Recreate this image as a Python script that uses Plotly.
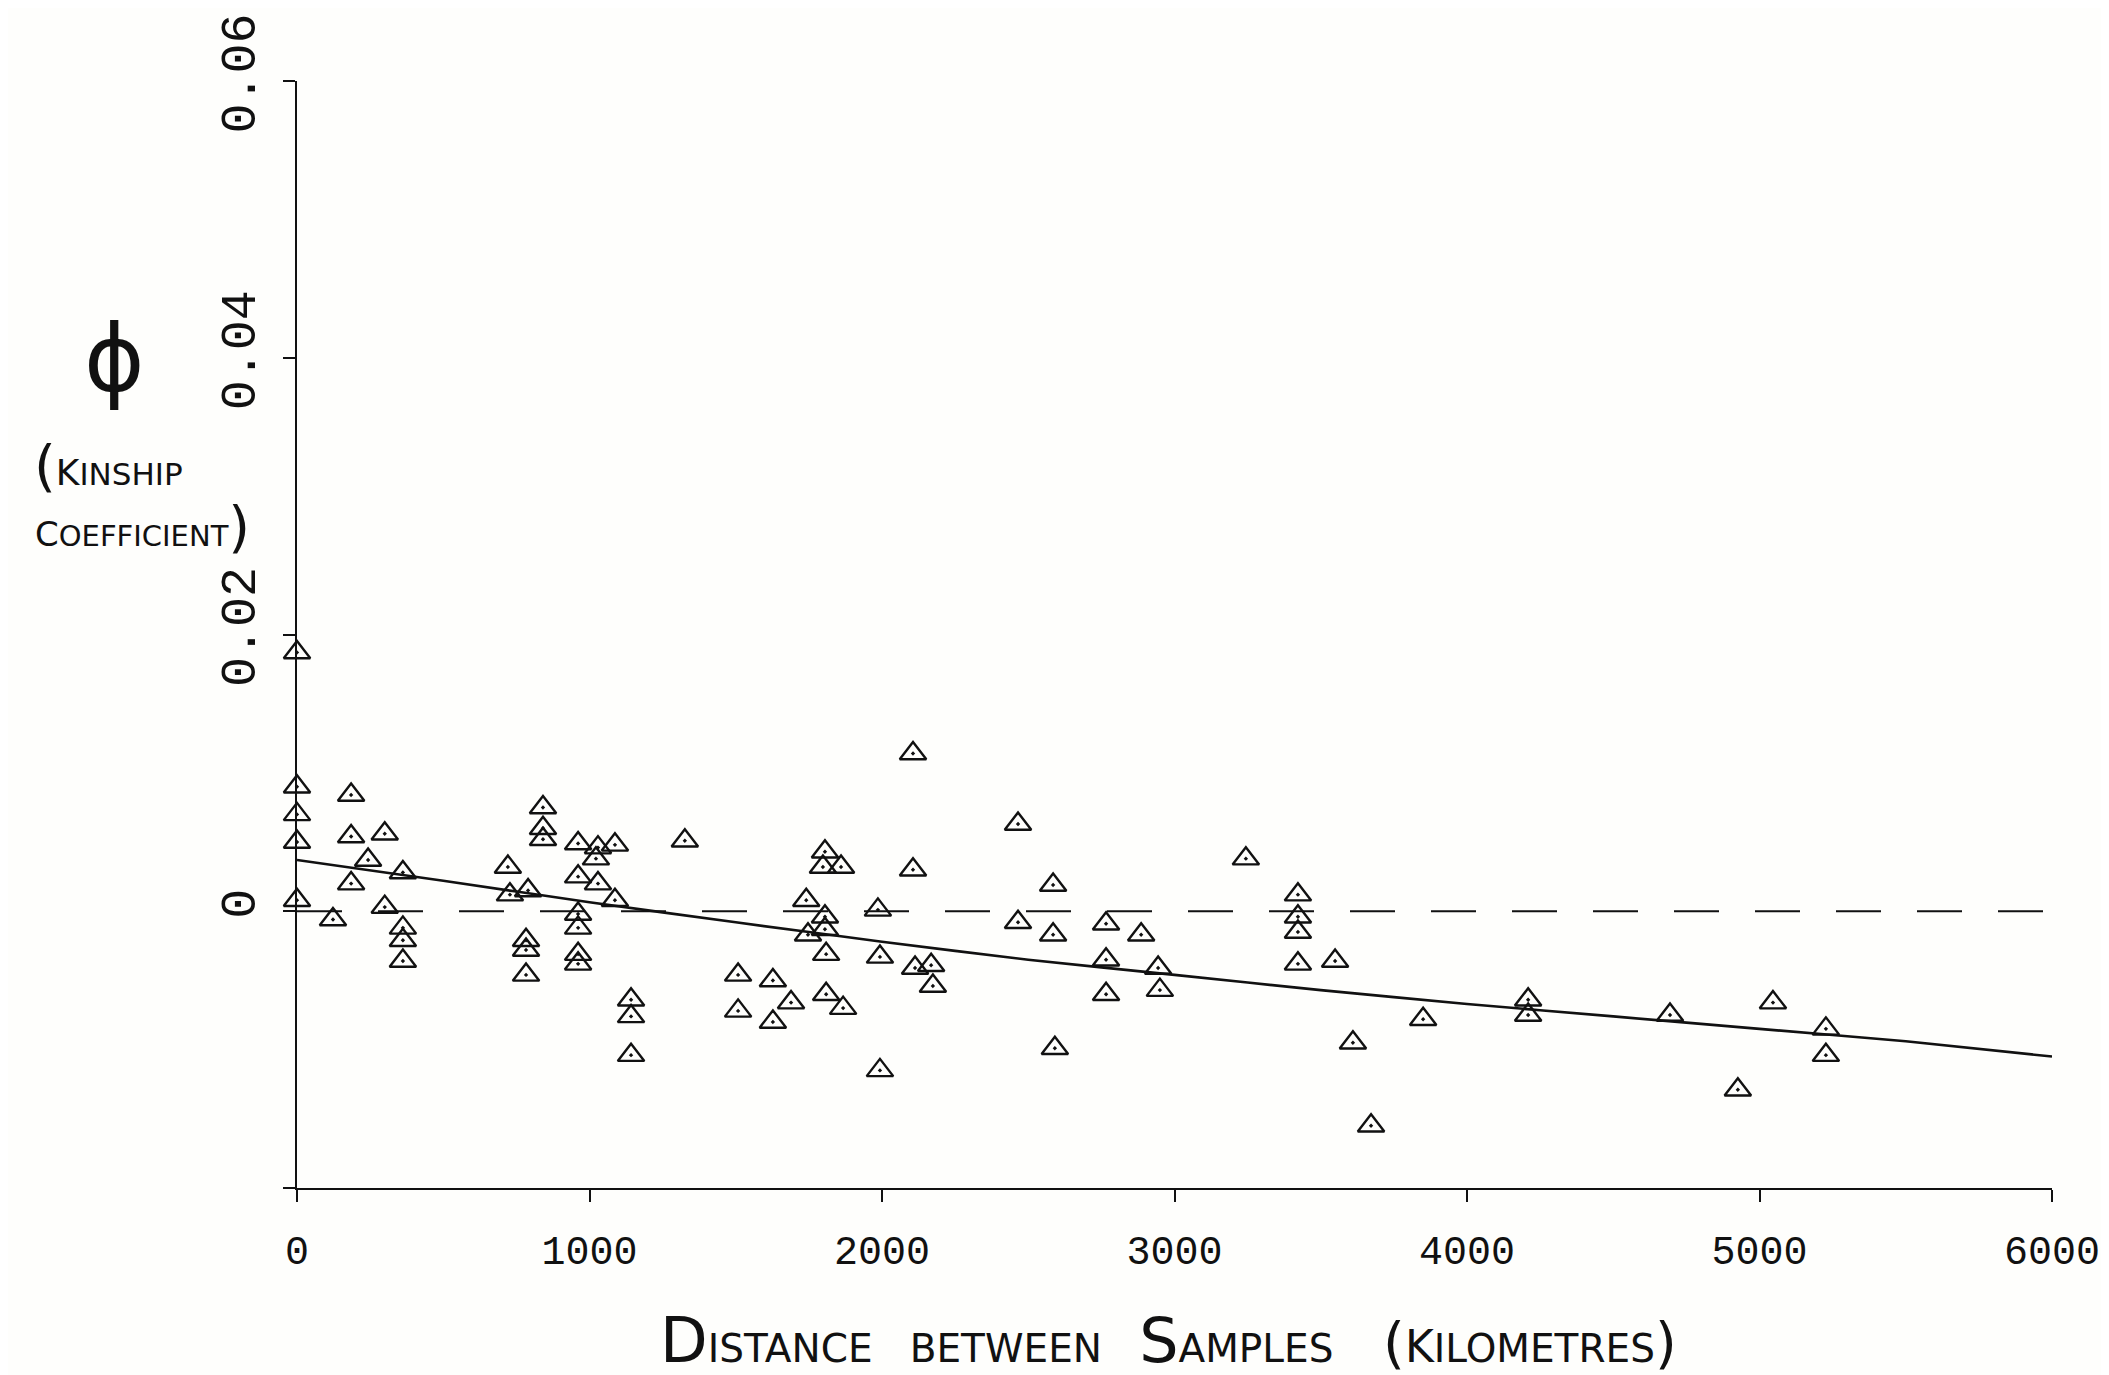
import plotly.graph_objects as go

# ---- data ----
distance_km = [
    0, 0, 0, 0, 0,
    123,
    185, 185, 185,
    243,
    300, 300,
    362, 362, 362, 362,
    721, 728, 790,
    783, 783, 783,
    841, 841, 841,
    961, 961, 961, 961, 961, 961,
    1029, 1029, 1022,
    1087, 1087,
    1142, 1142, 1142,
    1326,
    1508, 1508,
    1627, 1627,
    1689,
    1741, 1747,
    1798,
    1805, 1805, 1805,
    1809, 1809,
    1860, 1867,
    1986,
    1993, 1993,
    2106, 2106,
    2113, 2168, 2174,
    2465, 2465,
    2585, 2585, 2591,
    2766, 2766, 2766,
    2886, 2944, 2950,
    3244,
    3422, 3422, 3422, 3422,
    3549, 3610, 3672,
    3850,
    4209, 4209,
    4694, 4926, 5046,
    5227, 5227,
    6010,
]
kinship = [
    0.0187, 0.0090, 0.0070, 0.0050, 0.0008,
    -0.0006,
    0.0084, 0.0054, 0.0020,
    0.0037,
    0.0056, 0.0003,
    0.0028, -0.0012, -0.0021, -0.0036,
    0.0032, 0.0012, 0.0015,
    -0.0021, -0.0028, -0.0046,
    0.0075, 0.0060, 0.0052,
    0.0049, 0.0025, -0.0002, -0.0012, -0.0031, -0.0038,
    0.0046, 0.0020, 0.0038,
    0.0048, 0.0008,
    -0.0064, -0.0076, -0.0104,
    0.0051,
    -0.0046, -0.0072,
    -0.0050, -0.0080,
    -0.0066,
    0.0008, -0.0017,
    0.0032,
    0.0043, -0.0004, -0.0013,
    -0.0031, -0.0060,
    0.0032, -0.0070,
    0.0001,
    -0.0033, -0.0115,
    0.0114, 0.0030,
    -0.0041, -0.0039, -0.0054,
    0.0063, -0.0008,
    0.0019, -0.0017, -0.0099,
    -0.0009, -0.0035, -0.0060,
    -0.0017, -0.0041, -0.0057,
    0.0038,
    0.0012, -0.0004, -0.0015, -0.0038,
    -0.0036, -0.0095, -0.0155,
    -0.0078,
    -0.0064, -0.0075,
    -0.0075, -0.0129, -0.0066,
    -0.0085, -0.0104,
    -0.0099,
]

fit_x = [0, 500, 1000, 1500, 2000, 2500, 3000, 3500, 4000, 4500, 5000, 5500, 6000]
fit_y = [0.0037, 0.0022, 0.00065, -0.0008, -0.0022, -0.0035, -0.0046,
         -0.0057, -0.0067, -0.0076, -0.0085, -0.0094, -0.0105]

zero_x = [0, 6000]
zero_y = [0, 0]

x_ticks = [0, 1000, 2000, 3000, 4000, 5000, 6000]
x_tick_text = ["0", "1000", "2000", "3000", "4000", "5000", "6000"]
y_ticks = [-0.02, 0, 0.02, 0.04, 0.06]
y_tick_text = ["", "0", "0.02", "0.04", "0.06"]

# ---- layout geometry ----
W, H = 2109, 1375
ML, MR, MT, MB = 289, 65, 73, 195
PW, PH = W - ML - MR, H - MT - MB


def px(xp, yp):
    return (xp - ML) / PW, 1 - (yp - MT) / PH


INK = "#111111"
MONO = "Liberation Mono, DejaVu Sans Mono, monospace"
HAND = "DejaVu Sans, Liberation Sans, sans-serif"

fig = go.Figure()

fig.add_trace(go.Scatter(
    x=zero_x, y=zero_y, mode="lines",
    line=dict(color=INK, width=2.2, dash="45px,36px"),
    hoverinfo="skip", showlegend=False,
))
fig.add_trace(go.Scatter(
    x=fit_x, y=fit_y, mode="lines",
    line=dict(color=INK, width=2.6, shape="spline", smoothing=0.6),
    hoverinfo="skip", showlegend=False,
))
fig.add_trace(go.Scatter(
    x=distance_km, y=kinship, mode="markers",
    marker=dict(symbol="triangle-up-open-dot", size=23, color=INK,
                line=dict(color=INK, width=2.4)),
    cliponaxis=False, showlegend=False,
))

annotations = []
x0, y0 = px(106, 352)
annotations.append(dict(x=x0, y=y0, xref="paper", yref="paper", text="ϕ",
                        showarrow=False, xanchor="center", yanchor="middle",
                        font=dict(family=HAND, size=92, color=INK)))
x0, y0 = px(100, 458)
annotations.append(dict(x=x0, y=y0, xref="paper", yref="paper",
                        text="<span style='font-size:56px'>(</span><span style='font-size:36px'>K</span>INSHIP",
                        showarrow=False, xanchor="center", yanchor="middle",
                        font=dict(family=HAND, size=31, color=INK)))
x0, y0 = px(134, 518)
annotations.append(dict(x=x0, y=y0, xref="paper", yref="paper",
                        text="<span style='font-size:34px'>C</span>OEFFICIENT<span style='font-size:56px'>)</span>",
                        showarrow=False, xanchor="center", yanchor="middle",
                        font=dict(family=HAND, size=29, color=INK)))
x0, y0 = px(1160, 1332)
annotations.append(dict(
    x=x0, y=y0, xref="paper", yref="paper",
    text=("<span style='font-size:62px'>D</span>ISTANCE\u00a0\u00a0 BETWEEN\u00a0\u00a0 "
          "<span style='font-size:62px'>S</span>AMPLES\u00a0\u00a0\u00a0 "
          "<span style='font-size:56px'>(</span><span style='font-size:44px'>K</span>ILOMETRES"
          "<span style='font-size:56px'>)</span>"),
    showarrow=False, xanchor="center", yanchor="middle",
    font=dict(family=HAND, size=39, color=INK)))

fig.update_layout(
    width=W, height=H,
    margin=dict(l=ML, r=MR, t=MT, b=MB, autoexpand=False),
    paper_bgcolor="#fefefc", plot_bgcolor="#fefefc",
    showlegend=False,
    annotations=annotations,
    xaxis=dict(
        range=[0, 6000], tickvals=x_ticks, ticktext=x_tick_text,
        showline=True, linecolor=INK, linewidth=2.2, mirror=False,
        ticks="outside", ticklen=12, tickwidth=2.2, tickcolor=INK,
        showgrid=False, zeroline=False,
        tickfont=dict(family=MONO, size=40, color=INK),
        ticklabelstandoff=14,
    ),
    yaxis=dict(
        range=[-0.02, 0.06], tickvals=y_ticks, ticktext=y_tick_text,
        showline=True, linecolor=INK, linewidth=2.2, mirror=False,
        ticks="outside", ticklen=12, tickwidth=2.2, tickcolor=INK,
        showgrid=False, zeroline=False,
        tickfont=dict(family=MONO, size=50, color=INK),
        tickangle=-90, ticklabelstandoff=8,
    ),
)

fig.write_html("out.html")
